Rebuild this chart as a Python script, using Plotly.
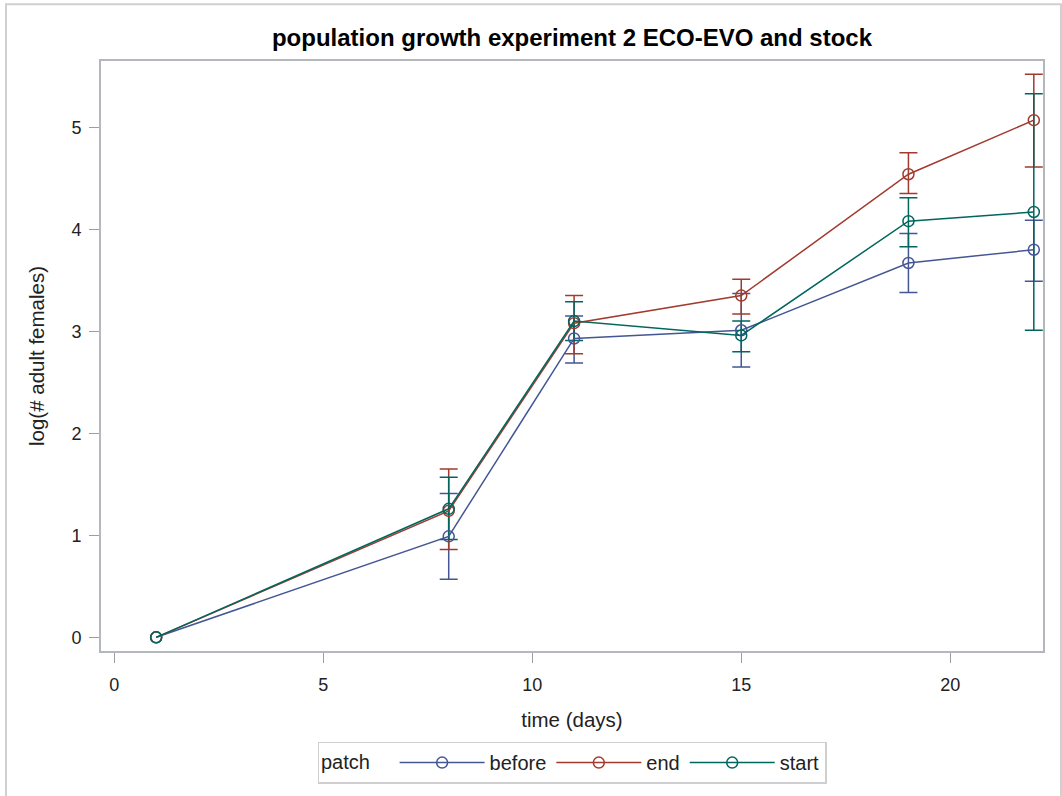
import plotly.graph_objects as go

days = [1, 8, 11, 15, 19, 22]

before_mean = [0.00, 0.99, 2.93, 3.01, 3.67, 3.80]
before_upper = [None, 1.41, 3.15, 3.37, 3.96, 4.09]
before_lower = [None, 0.57, 2.69, 2.65, 3.38, 3.49]

end_mean = [0.00, 1.24, 3.08, 3.35, 4.54, 5.07]
end_upper = [None, 1.65, 3.35, 3.51, 4.75, 5.52]
end_lower = [None, 0.86, 2.78, 3.17, 4.35, 4.61]

start_mean = [0.00, 1.26, 3.10, 2.96, 4.08, 4.17]
start_upper = [None, 1.57, 3.29, 3.10, 4.31, 5.33]
start_lower = [None, 0.96, 2.91, 2.80, 3.83, 3.01]

series = [
    ("before", before_mean, before_upper, before_lower, "#445694"),
    ("end", end_mean, end_upper, end_lower, "#A23A2E"),
    ("start", start_mean, start_upper, start_lower, "#01665E"),
]

fig = go.Figure()
for name, m, up, lo, col in series:
    idx = [i for i, u in enumerate(up) if u is not None]
    fig.add_trace(go.Scatter(
        x=[days[i] for i in idx], y=[m[i] for i in idx], mode="markers",
        marker=dict(opacity=0, size=1, color=col), showlegend=False, hoverinfo="skip",
        error_y=dict(type="data", symmetric=False,
                     array=[up[i] - m[i] for i in idx],
                     arrayminus=[m[i] - lo[i] for i in idx],
                     color=col, thickness=1.5, width=9),
    ))
for name, m, up, lo, col in series:
    fig.add_trace(go.Scatter(
        x=days, y=m, name=name, mode="lines+markers",
        line=dict(color=col, width=1.5),
        marker=dict(symbol="circle-open", size=11, color=col, line=dict(width=1.5, color=col)),
    ))

W, H = 1062, 796
L, R, T, B = 101, 19, 61, 143
pw, ph = W - L - R, H - T - B

def px(x):
    return (x - L) / pw

def py(y):
    return (H - B - y) / ph

fig.update_layout(
    width=W, height=H,
    margin=dict(l=L, r=R, t=T, b=B),
    paper_bgcolor="white", plot_bgcolor="white",
    font=dict(family="Liberation Sans, Arial, sans-serif", size=18, color="#222"),
    title=dict(text="<b>population growth experiment 2 ECO-EVO and stock</b>",
               x=0.5, xref="paper", xanchor="center", y=1 - 38 / H, yanchor="middle",
               font=dict(size=24, color="black")),
    xaxis=dict(range=[-0.32, 22.22], tickvals=[0, 5, 10, 15, 20], ticks="outside",
               ticklen=10, tickcolor="#9a9ea2", showline=True, linecolor="#b4b8bc",
               linewidth=2, mirror=True, showgrid=False, zeroline=False,
               ticklabelstandoff=6, automargin=False,
               title=dict(text="time (days)", standoff=19, font=dict(size=20.5)),
               tickfont=dict(size=18, color="#222")),
    yaxis=dict(range=[-0.134, 5.65], tickvals=[0, 1, 2, 3, 4, 5], ticks="outside",
               ticklen=10, tickcolor="#9a9ea2", showline=True, linecolor="#b4b8bc",
               linewidth=2, mirror=True, showgrid=False, zeroline=False,
               ticklabelstandoff=4, automargin=False,
               title=dict(text="log(# adult females)", standoff=21, font=dict(size=20.5)),
               tickfont=dict(size=18, color="#222")),
    legend=dict(orientation="h", x=0.5, xanchor="center", y=py(765), yanchor="middle",
                bordercolor="#cfcfcf", borderwidth=1.5, font=dict(size=20, color="#222"),
                title=dict(text="patch   ", font=dict(size=20, color="#222")),
                itemwidth=85),
    shapes=[dict(type="rect", xref="paper", yref="paper",
                 x0=px(6), x1=px(1061), y0=py(805), y1=py(4),
                 line=dict(color="#d0d0d0", width=2), fillcolor="rgba(0,0,0,0)",
                 layer="below")],
)

fig.write_html("out.html")
